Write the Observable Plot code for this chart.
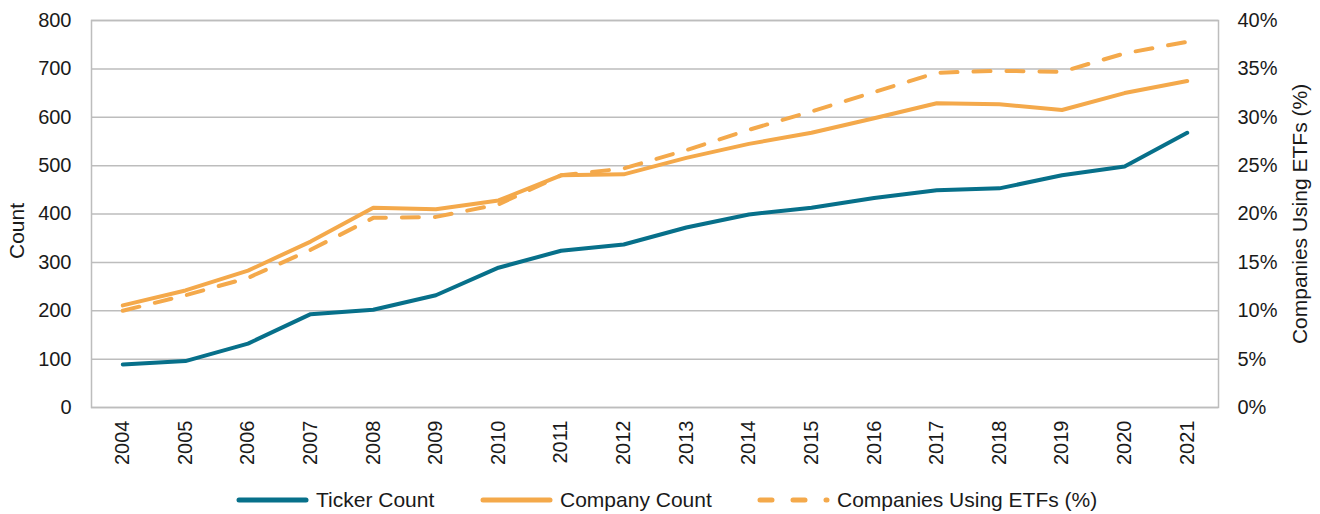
<!DOCTYPE html>
<html><head><meta charset="utf-8">
<script src="https://cdn.jsdelivr.net/npm/d3@7"></script>
<script src="https://cdn.jsdelivr.net/npm/@observablehq/plot@0.6"></script>
<style>
body{margin:0;background:#fff;font-family:"Liberation Sans",Arial,sans-serif;}
#chart{position:relative;width:1320px;height:514px;overflow:hidden;}
.legend{position:absolute;top:486px;left:0;width:1320px;height:28px;font-size:21px;color:#1a1a1a;}
.item{position:absolute;top:0;height:28px;display:flex;align-items:center;white-space:nowrap;}
.item svg{margin-right:6px;}
</style></head><body>
<div id="chart"></div>
<script>
const years = ["2004","2005","2006","2007","2008","2009","2010","2011","2012","2013","2014","2015","2016","2017","2018","2019","2020","2021"];
const tickerCount = [89, 96, 132, 193, 202, 232, 289, 324, 337, 372, 399, 413, 433, 449, 453, 480, 498, 568];
const companyCount = [211, 242, 283, 343, 413, 410, 428, 480, 482, 516, 545, 568, 598, 629, 627, 615, 650, 675];
const etfPct = [10.0, 11.6, 13.4, 16.3, 19.6, 19.7, 21.0, 24.0, 24.7, 26.6, 28.7, 30.6, 32.6, 34.6, 34.8, 34.7, 36.6, 37.8];
const countTicks = [0, 100, 200, 300, 400, 500, 600, 700, 800];
const pctTicks = [0, 5, 10, 15, 20, 25, 30, 35, 40];
const seriesNames = ["Ticker Count", "Company Count", "Companies Using ETFs (%)"];
const axisTitles = ["Count", "Companies Using ETFs (%)"];

const teal = "#07708a";
const orange = "#f4a94b";
const pctToCount = 800 / 40;

const rows = years.map((y, i) => ({year: y, ticker: tickerCount[i], company: companyCount[i], pct: etfPct[i]}));

const chart = Plot.plot({
  width: 1320,
  height: 480,
  marginTop: 20,
  marginBottom: 73,
  marginLeft: 91,
  marginRight: 102,
  style: {fontFamily: '"Liberation Sans", Arial, sans-serif', fontSize: "20px", color: "#1a1a1a", background: "white", overflow: "visible"},
  x: {type: "point", domain: years, padding: 0.5, round: false},
  y: {domain: [0, 800]},
  marks: [
    Plot.ruleY(countTicks, {stroke: "#bdbdbd", strokeWidth: 1.5}),
    Plot.frame({stroke: "#bdbdbd", strokeWidth: 1.5}),
    Plot.axisY(countTicks, {anchor: "left", tickSize: 0, tickPadding: 20, label: null, fontSize: 20}),
    Plot.axisY(pctTicks.map(p => p * pctToCount), {anchor: "right", tickSize: 0, tickPadding: 19, label: null, tickFormat: d => (d / pctToCount) + "%", fontSize: 20}),
    Plot.axisX({tickRotate: -90, tickSize: 0, tickPadding: 13, label: null, fontSize: 20}),
    Plot.text([axisTitles[0]], {text: d => d, frameAnchor: "left", rotate: -90, textAnchor: "middle", dx: -74, dy: 17, fontSize: 21, fill: "#1a1a1a"}),
    Plot.text([axisTitles[1]], {text: d => d, frameAnchor: "right", rotate: -90, textAnchor: "middle", dx: 82, dy: 0, fontSize: 21, fill: "#1a1a1a"}),
    Plot.line(rows, {x: "year", y: "ticker", stroke: teal, strokeWidth: 4, strokeLinejoin: "round"}),
    Plot.line(rows, {x: "year", y: "company", stroke: orange, strokeWidth: 4, strokeLinejoin: "round"}),
    Plot.line(rows, {x: "year", y: d => d.pct * pctToCount, stroke: orange, strokeWidth: 4, strokeDasharray: "17,16", strokeLinejoin: "round"})
  ]
});
const holder = document.getElementById("chart");
holder.appendChild(chart);

const legend = document.createElement("div");
legend.className = "legend";
const items = [
  {name: seriesNames[0], color: teal, dash: null, left: 236},
  {name: seriesNames[1], color: orange, dash: null, left: 480},
  {name: seriesNames[2], color: orange, dash: "12,21", left: 757}
];
for (const it of items) {
  const d = document.createElement("div");
  d.className = "item";
  d.style.left = it.left + "px";
  d.innerHTML = `<svg width="74" height="10"><line x1="3" y1="5" x2="70" y2="5" stroke="${it.color}" stroke-width="5" stroke-linecap="round" ${it.dash ? `stroke-dasharray="${it.dash}"` : ""}/></svg><span>${it.name}</span>`;
  legend.appendChild(d);
}
holder.appendChild(legend);
</script>
</body></html>
